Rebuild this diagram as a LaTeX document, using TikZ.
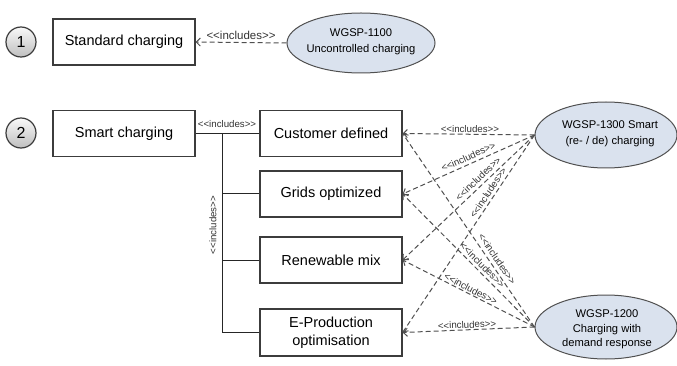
\documentclass[tikz,border=0pt]{standalone}
\usepackage{fontspec}
\setmainfont{Liberation Sans}
\usetikzlibrary{shapes.geometric,arrows.meta}
\definecolor{ellfill}{RGB}{218,226,238}
\definecolor{edgec}{RGB}{60,60,60}
\definecolor{dashc}{RGB}{80,80,80}
\newcommand\inclabel{<\kern0pt<includes>\kern0pt>}
\tikzset{
  box/.style={draw=edgec,line width=1.2pt,minimum width=142pt,minimum height=46pt,inner sep=0pt,align=center,font=\fontsize{14.5}{18}\selectfont},
  ell/.style={draw=dashc,line width=1pt,fill=ellfill,ellipse,inner sep=0pt},
  etext/.style={align=center,inner sep=0pt,font=\fontsize{11.2}{16}\selectfont},
  num/.style={circle,draw=edgec,line width=1.2pt,minimum size=30pt,inner sep=0pt,top color=gray!5,bottom color=gray!50,font=\fontsize{16}{16}\selectfont},
  dep/.style={draw=dashc,line width=1pt,dash pattern=on 5pt off 3pt,-{Straight Barb[length=4pt,width=8pt]}},
  tree/.style={draw=black!85,line width=1pt},
  lbl/.style={font=\fontsize{9.7}{10}\selectfont,inner sep=1pt,text=black!80},
  lblbig/.style={font=\fontsize{11.5}{12}\selectfont,inner sep=1pt,text=black!80}
}
\begin{document}
\begin{tikzpicture}[x=1pt,y=-1pt]
\useasboundingbox (0,0) rectangle (677,366);
% row 1
\node[num] (c1) at (21,42) {1};
\node[box] (std) at (124,42) {Standard charging};
\node[ell,minimum width=148pt,minimum height=60pt] (u1100) at (361,43) {};
\node[etext] (t1100) at (361,42) {WGSP-1100\\Uncontrolled charging};
\draw[dep] (u1100.west) -- node[lblbig,above=1pt] (l1100) {\inclabel} (std.east);
% row 2
\node[num] (c2) at (21,133) {2};
\node[box] (smart) at (124,133.5) {Smart charging};
\node[box] (cust) at (331,133.5) {Customer defined};
\node[box] (grid) at (331,194) {Grids optimized};
\node[box] (renew) at (331,260) {Renewable mix};
\node[box,minimum height=47pt] (eprod) at (331,332.5) {E-Production\\optimisation};
\coordinate (j) at (222,133.5);
\draw[tree] (smart.east) -- (cust.west);
\draw[tree] (j) |- (grid.west);
\draw[tree] (j) |- (renew.west);
\draw[tree] (j) |- (eprod.west);
\node[lbl] (tl1) at (227,124) {\inclabel};
\node[lbl,rotate=90] (tl2) at (213,225) {\inclabel};
% ellipses right
\node[ell,minimum width=142pt,minimum height=66pt] (s1300) at (606,135) {};
\node[etext] (t1300) at (610,133.5) {WGSP-1300 Smart\\(re- / de) charging};
\node[ell,minimum width=142pt,minimum height=64pt] (d1200) at (606,327) {};
\node[etext,font=\fontsize{11.2}{14.5}\selectfont] (t1200) at (607,329.5) {WGSP-1200\\Charging with\\demand response};
% dependencies from 1300
\draw[dep] (s1300.west) -- node[lbl,above,sloped,pos=0.49] (a1) {\inclabel} (cust.east);
\draw[dep] (s1300.west) -- node[lbl,above=2pt,sloped,pos=0.48] (a2) {\inclabel} (grid.east);
\draw[dep] (s1300.west) -- node[lbl,above=2pt,sloped,pos=0.39] (a3) {\inclabel} (renew.east);
\draw[dep] (s1300.west) -- node[lbl,above=1.5pt,sloped,pos=0.31] (a4) {\inclabel} (eprod.east);
% dependencies from 1200
\draw[dep] (d1200.west) -- node[lbl,above,sloped,pos=0.51] (b1) {\inclabel} (eprod.east);
\draw[dep] (d1200.west) -- node[lbl,above,sloped,pos=0.5] (b2) {\inclabel} (renew.east);
\draw[dep] (d1200.west) -- node[lbl,above=1.5pt,sloped,pos=0.43] (b3) {\inclabel} (grid.east);
\draw[dep] (d1200.west) -- node[lbl,above=2.5pt,sloped,pos=0.33] (b4) {\inclabel} (cust.east);
\end{tikzpicture}
\end{document}
